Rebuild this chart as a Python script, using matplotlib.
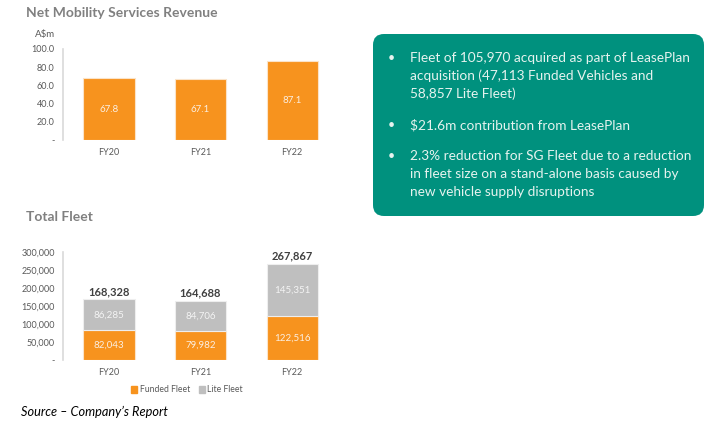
import matplotlib.pyplot as plt
from matplotlib.patches import FancyBboxPatch, Patch

plt.rcParams['font.family'] = ['Lato', 'DejaVu Sans']

# Data
years = ['FY20', 'FY21', 'FY22']
revenue = [67.8, 67.1, 87.1]
funded = [82043, 79982, 122516]
lite = [86285, 84706, 145351]
totals = [168328, 164688, 267867]

rev_ticks = [0, 20, 40, 60, 80, 100]
rev_tick_labels = ['-', '20.0', '40.0', '60.0', '80.0', '100.0']
fleet_ticks = [0, 50000, 100000, 150000, 200000, 250000, 300000]
fleet_tick_labels = ['-', '50,000', '100,000', '150,000', '200,000', '250,000', '300,000']

bullets = [
    ['Fleet of 105,970 acquired as part of LeasePlan',
     'acquisition (47,113 Funded Vehicles and',
     '58,857 Lite Fleet)'],
    ['$21.6m contribution from LeasePlan'],
    ['2.3% reduction for SG Fleet due to a reduction',
     'in fleet size on a stand-alone basis caused by',
     'new vehicle supply disruptions'],
]

ORANGE = '#F7931E'
GREY = '#BFBFBF'
TICK = '#595959'
W, H = 709, 424

fig = plt.figure(figsize=(W / 100, H / 100), dpi=100)


def px_axes(x0, y0, x1, y1):
    # axes from pixel box (top-left origin)
    return fig.add_axes([x0 / W, 1 - y1 / H, (x1 - x0) / W, (y1 - y0) / H])


def style(ax):
    for s in ['top', 'right', 'bottom']:
        ax.spines[s].set_visible(False)
    ax.spines['left'].set_color('#D9D9D9')
    ax.spines['left'].set_linewidth(1.2)
    ax.tick_params(length=0, labelsize=6.5, labelcolor=TICK)
    ax.tick_params(axis='y', pad=6)
    ax.tick_params(axis='x', pad=6)
    ax.set_xlim(-0.5, 2.5)


# Revenue chart
ax1 = px_axes(63, 49, 338, 140)
bars = ax1.bar(years, revenue, width=0.56, color=ORANGE, edgecolor='#FBE3C8', linewidth=0.8)
for b, v in zip(bars, revenue):
    ax1.text(b.get_x() + b.get_width() / 2, v / 2, f'{v:.1f}', ha='center', va='center',
             color='#FBEFE2', fontsize=7)
ax1.set_ylim(0, 100)
ax1.set_yticks(rev_ticks)
ax1.set_yticklabels(rev_tick_labels)
style(ax1)

# Fleet chart
ax2 = px_axes(63, 252, 338, 360)
b1 = ax2.bar(years, funded, width=0.56, color=ORANGE, edgecolor='#FBE3C8', linewidth=0.8)
b2 = ax2.bar(years, lite, bottom=funded, width=0.56, color=GREY, edgecolor='#EEEEEE', linewidth=0.8)
for i in range(len(years)):
    ax2.text(i, funded[i] / 2, f'{funded[i]:,}', ha='center', va='center', color='#FBEFE2', fontsize=7)
    ax2.text(i, funded[i] + lite[i] / 2, f'{lite[i]:,}', ha='center', va='center', color='#F4F4F4', fontsize=7)
    ax2.text(i, totals[i] + 6000, f'{totals[i]:,}', ha='center', va='bottom', color='#404040',
             fontsize=8, fontweight='bold')
ax2.set_ylim(0, 300000)
ax2.set_yticks(fleet_ticks)
ax2.set_yticklabels(fleet_tick_labels)
style(ax2)
ax2.legend([Patch(color=ORANGE), Patch(color=GREY)], ['Funded Fleet', 'Lite Fleet'],
           loc='center', bbox_to_anchor=(187 / W, 1 - 390 / H), bbox_transform=fig.transFigure,
           ncol=2, frameon=False, fontsize=6.2, handlelength=0.7, handleheight=0.7,
           handletextpad=0.3, columnspacing=1.0, labelcolor=TICK)

# Overlay in pixel coordinates for free text and the box
ov = fig.add_axes([0, 0, 1, 1])
ov.set_xlim(0, W)
ov.set_ylim(H, 0)
ov.axis('off')
ov.patch.set_alpha(0)

ov.text(26, 13, 'Net Mobility Services Revenue', fontsize=10, fontweight='bold',
        color='#808080', va='center', ha='left')
ov.text(35, 34, 'A$m', fontsize=7, color=TICK, va='center', ha='left')
ov.text(26, 217, 'Total Fleet', fontsize=10, fontweight='bold', color='#808080', va='center', ha='left')
ov.text(21, 412, 'Source \u2013 Company\u2019s Report', fontsize=9.2, style='italic',
        color='black', va='center', ha='left')

ov.add_patch(FancyBboxPatch((373, 34), 331, 182, boxstyle='round,pad=0,rounding_size=11',
                            facecolor='#00917E', edgecolor='none'))
y = 58
for lines in bullets:
    ov.text(388, y, '\u2022', fontsize=9, color='#E6F3EF', va='center', ha='left')
    for ln in lines:
        ov.text(410, y, ln, fontsize=9.8, color='#E6F3EF', va='center', ha='left')
        y += 18
    y += 13

fig.savefig('out.png', dpi=100)
